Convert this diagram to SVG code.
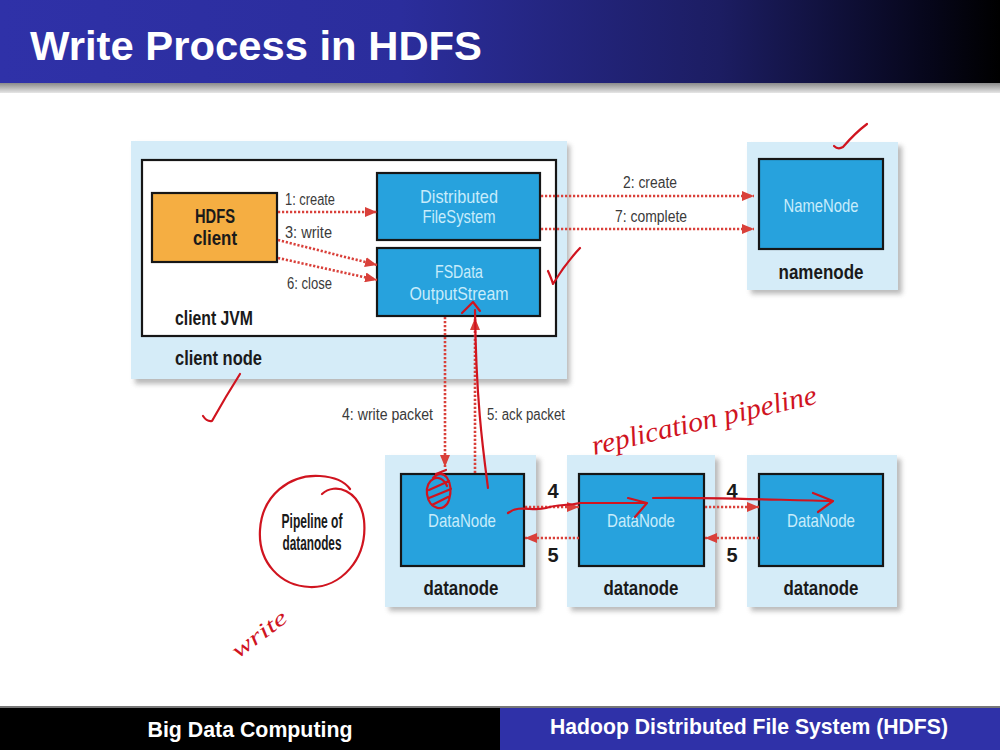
<svg xmlns="http://www.w3.org/2000/svg" width="1000" height="750" viewBox="0 0 1000 750">
<defs>
<linearGradient id="tg" x1="0" y1="0" x2="1" y2="0">
<stop offset="0" stop-color="#2f31a8"/>
<stop offset="0.4" stop-color="#2b2d9c"/>
<stop offset="0.72" stop-color="#1c1d62"/>
<stop offset="0.93" stop-color="#06061a"/>
<stop offset="1" stop-color="#000"/>
</linearGradient>
<linearGradient id="sg" x1="0" y1="0" x2="0" y2="1">
<stop offset="0" stop-color="#8a8a8a"/>
<stop offset="1" stop-color="#e6e6e6"/>
</linearGradient>
<filter id="sh" x="-10%" y="-10%" width="130%" height="130%">
<feGaussianBlur stdDeviation="2.5"/>
</filter>
<marker id="ah" viewBox="0 0 12 10" refX="12" refY="5" markerWidth="12" markerHeight="10" markerUnits="userSpaceOnUse" orient="auto">
<path d="M0,0 L12,5 L0,10 Z" fill="#d9403a"/>
</marker>
<style>
.outer{fill:#d5ecf8}
.shadow{fill:#8c8c8c;opacity:0.6;filter:url(#sh)}
.blue{fill:#27a2dd;stroke:#161616;stroke-width:2.2}
.btxt{font-family:"Liberation Sans",Arial,sans-serif;font-size:19px;fill:#c8ecfb;text-anchor:middle}
.bold{font-family:"Liberation Sans",Arial,sans-serif;font-weight:bold;font-size:20px;fill:#1a1a1a}
.lbl{font-family:"Liberation Sans",Arial,sans-serif;font-size:16px;fill:#3a3a3a}
.dot{fill:none;stroke:#d9403a;stroke-width:2.6;stroke-dasharray:2.2 1.8;marker-end:url(#ah)}
.hand{fill:none;stroke:#d0141f;stroke-width:2.2;stroke-linecap:round;stroke-linejoin:round}
.htxt{font-family:"Liberation Serif",serif;font-style:italic;fill:#d0141f}
</style>
</defs>
<rect width="1000" height="750" fill="#fff"/>

<g id="title">
<rect x="0" y="0" width="1000" height="83" fill="url(#tg)"/>
<rect x="0" y="83" width="1000" height="10" fill="url(#sg)"/>
<text x="30" y="60" font-family="'Liberation Sans',Arial,sans-serif" font-weight="bold" font-size="41" fill="#fff" textLength="452" lengthAdjust="spacingAndGlyphs">Write Process in HDFS</text>
</g>

<g id="client-node">
<rect class="shadow" x="135" y="145" width="435" height="239"/>
<rect class="outer" x="131" y="141" width="436" height="238"/>
<text class="bold" x="175" y="365" textLength="87" lengthAdjust="spacingAndGlyphs">client node</text>
</g>
<g id="client-jvm">
<rect x="142" y="160" width="414" height="176" fill="#fff" stroke="#161616" stroke-width="2.2"/>
<text class="bold" x="175" y="325" textLength="78" lengthAdjust="spacingAndGlyphs">client JVM</text>
</g>
<g id="hdfs-client">
<rect x="152" y="193" width="125" height="69" fill="#f5ae42" stroke="#161616" stroke-width="2.2"/>
<text class="bold" x="215" y="223" text-anchor="middle" textLength="40" lengthAdjust="spacingAndGlyphs">HDFS</text>
<text class="bold" x="215" y="245" text-anchor="middle" textLength="44" lengthAdjust="spacingAndGlyphs">client</text>
</g>
<g id="distributed-fs">
<rect class="blue" x="377" y="173" width="163" height="67"/>
<text class="btxt" x="459" y="203" textLength="78" lengthAdjust="spacingAndGlyphs">Distributed</text>
<text class="btxt" x="459" y="223" textLength="73" lengthAdjust="spacingAndGlyphs">FileSystem</text>
</g>
<g id="fsdata">
<rect class="blue" x="377" y="248" width="163" height="68"/>
<text class="btxt" x="459" y="278" textLength="48" lengthAdjust="spacingAndGlyphs">FSData</text>
<text class="btxt" x="459" y="300" textLength="99" lengthAdjust="spacingAndGlyphs">OutputStream</text>
</g>

<g id="namenode">
<rect class="shadow" x="751" y="146" width="151" height="148"/>
<rect class="outer" x="747" y="142" width="151" height="148"/>
<rect class="blue" x="759" y="159" width="124" height="90"/>
<text class="btxt" x="821" y="212" textLength="75" lengthAdjust="spacingAndGlyphs">NameNode</text>
<text class="bold" x="821" y="279" text-anchor="middle" textLength="85" lengthAdjust="spacingAndGlyphs">namenode</text>
</g>

<g id="datanode1">
<rect class="shadow" x="389" y="459" width="151" height="152"/>
<rect class="outer" x="385" y="455" width="151" height="152"/>
<rect class="blue" x="401" y="474" width="123" height="92"/>
<text class="btxt" x="462" y="527" textLength="68" lengthAdjust="spacingAndGlyphs">DataNode</text>
<text class="bold" x="461" y="595" text-anchor="middle" textLength="75" lengthAdjust="spacingAndGlyphs">datanode</text>
</g>
<g id="datanode2">
<rect class="shadow" x="571" y="459" width="148" height="152"/>
<rect class="outer" x="567" y="455" width="148" height="152"/>
<rect class="blue" x="579" y="474" width="125" height="92"/>
<text class="btxt" x="641" y="527" textLength="68" lengthAdjust="spacingAndGlyphs">DataNode</text>
<text class="bold" x="641" y="595" text-anchor="middle" textLength="75" lengthAdjust="spacingAndGlyphs">datanode</text>
</g>
<g id="datanode3">
<rect class="shadow" x="751" y="459" width="150" height="152"/>
<rect class="outer" x="747" y="455" width="150" height="152"/>
<rect class="blue" x="759" y="474" width="124" height="92"/>
<text class="btxt" x="821" y="527" textLength="68" lengthAdjust="spacingAndGlyphs">DataNode</text>
<text class="bold" x="821" y="595" text-anchor="middle" textLength="75" lengthAdjust="spacingAndGlyphs">datanode</text>
</g>

<g id="pipeline-label">
<text class="bold" x="312" y="528" text-anchor="middle" textLength="61" lengthAdjust="spacingAndGlyphs">Pipeline of</text>
<text class="bold" x="312" y="550" text-anchor="middle" textLength="59" lengthAdjust="spacingAndGlyphs">datanodes</text>
</g>

<g id="connectors">
<line class="dot" x1="278" y1="212" x2="377" y2="212"/>
<line class="dot" x1="278" y1="240" x2="377" y2="265"/>
<line class="dot" x1="278" y1="258" x2="377" y2="280"/>
<line class="dot" x1="541" y1="196" x2="754" y2="196"/>
<line class="dot" x1="541" y1="229" x2="754" y2="229"/>
<line class="dot" x1="445" y1="317" x2="445" y2="467"/>
<line class="dot" x1="475" y1="473" x2="475" y2="318"/>
<line class="dot" x1="525" y1="507" x2="579" y2="507"/>
<line class="dot" x1="579" y1="538" x2="525" y2="538"/>
<line class="dot" x1="705" y1="507" x2="759" y2="507"/>
<line class="dot" x1="759" y1="538" x2="705" y2="538"/>
<text class="lbl" x="285" y="205" textLength="50" lengthAdjust="spacingAndGlyphs">1: create</text>
<text class="lbl" x="285" y="238" textLength="47" lengthAdjust="spacingAndGlyphs">3: write</text>
<text class="lbl" x="287" y="289" textLength="45" lengthAdjust="spacingAndGlyphs">6: close</text>
<text class="lbl" x="650" y="188" text-anchor="middle" textLength="54" lengthAdjust="spacingAndGlyphs">2: create</text>
<text class="lbl" x="651" y="222" text-anchor="middle" textLength="72" lengthAdjust="spacingAndGlyphs">7: complete</text>
<text class="lbl" x="433" y="420" text-anchor="end" textLength="91" lengthAdjust="spacingAndGlyphs">4: write packet</text>
<text class="lbl" x="487" y="420" textLength="78" lengthAdjust="spacingAndGlyphs">5: ack packet</text>
<text class="bold" x="553" y="498" text-anchor="middle" font-size="18">4</text>
<text class="bold" x="553" y="562" text-anchor="middle" font-size="18">5</text>
<text class="bold" x="732" y="498" text-anchor="middle" font-size="18">4</text>
<text class="bold" x="732" y="562" text-anchor="middle" font-size="18">5</text>
</g>

<g id="annotations">
<path class="hand" d="M203,416 Q207,422 212,421 Q226,396 240,374"/>
<path class="hand" d="M548,271 Q552,280 553,284 Q565,264 580,248"/>
<path class="hand" d="M834,146 Q838,150 843,147 Q855,133 867,124"/>
<path class="hand" d="M488,488 C483,450 476,400 475,310 M462,313 L473,302 L480,311"/>
<path class="hand" stroke-width="1.8" d="M433,478 C444,466 454,482 449,500 C445,513 429,510 427,494 C425,479 440,471 447,486 M429,490 L449,481 M429,498 L451,489 M432,505 L448,497 M436,474 L446,470"/>
<path class="hand" d="M322,494 C335,482 360,490 364,520 C368,560 340,588 310,587 C280,586 258,562 260,530 C262,495 290,474 320,476 C335,477 345,482 350,489"/>
<path class="hand" d="M508,513 C520,504 532,512 546,508 C558,504 566,506 580,503 L647,503 M628,498 L647,503 L635,517"/>
<path class="hand" d="M653,498 C700,497 780,500 833,501 M813,493 L833,501 L818,512"/>
<text class="htxt" x="594" y="455" font-size="28" transform="rotate(-13 594 455)" textLength="230" lengthAdjust="spacingAndGlyphs">replication pipeline</text>
<text class="htxt" x="238" y="659" font-size="22" transform="rotate(-37 238 659)" textLength="64" lengthAdjust="spacingAndGlyphs">write</text>
</g>

<g id="footer">
<rect x="0" y="706" width="1000" height="2" fill="#777"/>
<rect x="0" y="708" width="500" height="42" fill="#000"/>
<rect x="500" y="708" width="500" height="42" fill="#2f31a8"/>
<text x="250" y="737" text-anchor="middle" font-family="'Liberation Sans',Arial,sans-serif" font-weight="bold" font-size="22" fill="#fff" textLength="205" lengthAdjust="spacingAndGlyphs">Big Data Computing</text>
<text x="749" y="734" text-anchor="middle" font-family="'Liberation Sans',Arial,sans-serif" font-weight="bold" font-size="22" fill="#fff" textLength="398" lengthAdjust="spacingAndGlyphs">Hadoop Distributed File System (HDFS)</text>
</g>
</svg>
